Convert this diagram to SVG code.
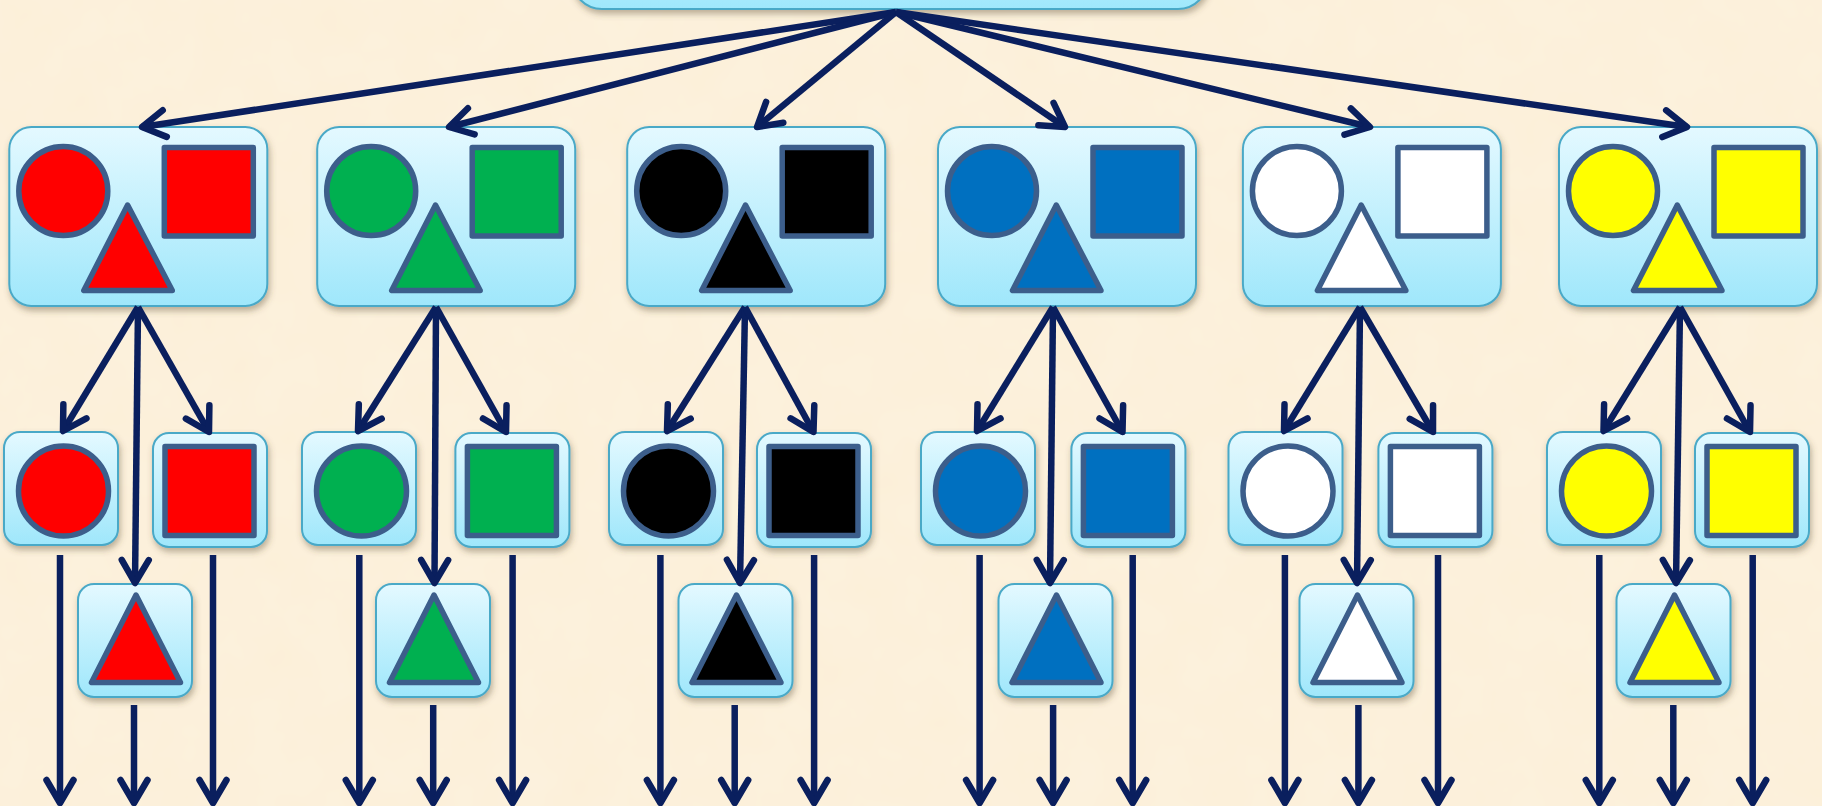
<svg xmlns="http://www.w3.org/2000/svg" width="1822" height="806" viewBox="0 0 1822 806">
<style>
.box{fill:url(#boxg);stroke:#4aa9c7;stroke-width:2;filter:url(#sh)}
.shp{stroke:#3c5e8b;stroke-width:5.5;stroke-linejoin:round}
.red{fill:#ff0000}.green{fill:#00b050}.black{fill:#000000}.blue{fill:#0070c0}.white{fill:#ffffff}.yellow{fill:#ffff00}
.con{fill:none;stroke:#0a1f5e;stroke-width:6.5;stroke-linecap:butt;marker-end:url(#ah)}
</style>
<defs>
<linearGradient id="boxg" x1="0" y1="0" x2="0" y2="1">
<stop offset="0" stop-color="#e4f9ff"/>
<stop offset="1" stop-color="#9fe7fb"/>
</linearGradient>
<linearGradient id="rootg" x1="0" y1="0" x2="0" y2="1">
<stop offset="0" stop-color="#c8f2fe"/>
<stop offset="1" stop-color="#9fe8fc"/>
</linearGradient>
<filter id="sh" x="-20%" y="-20%" width="140%" height="150%">
<feDropShadow dx="1.5" dy="4" stdDeviation="3" flood-color="#5a4a30" flood-opacity="0.4"/>
</filter>
<filter id="tex" x="0" y="0" width="100%" height="100%">
<feTurbulence type="fractalNoise" baseFrequency="0.02" numOctaves="3" seed="4"/>
<feColorMatrix type="matrix" values="0 0 0 0 0.98  0 0 0 0 0.91  0 0 0 0 0.78  0 0 0 0.45 0"/>
</filter>
<marker id="ah" markerUnits="userSpaceOnUse" markerWidth="44" markerHeight="44" viewBox="-32 -22 44 44" refX="0" refY="0" orient="auto">
<path d="M-23,-13.5 L0,0 L-23,13.5" fill="none" stroke="#0a1f5e" stroke-width="6.5" stroke-linecap="round" stroke-linejoin="round"/>
</marker>
</defs>
<rect x="0" y="0" width="1822" height="806" fill="#fcefd8"/>
<rect x="0" y="0" width="1822" height="806" filter="url(#tex)"/>

<g id="root">
<rect x="572" y="-70" width="636" height="79" rx="30" fill="url(#rootg)" stroke="#4aa9c7" stroke-width="2" filter="url(#sh)"/>
</g>

<g id="g1-all" transform="translate(9.3,0)">
<rect class="box" x="0" y="127" width="258" height="179" rx="22"/>
<circle class="shp red" cx="54" cy="191" r="44.5"/>
<rect class="shp red" x="155" y="147.5" width="89" height="88.5"/>
<polygon class="shp red" points="118.3,205 74.5,290.5 163,290.5"/>
</g>
<g id="g2-all" transform="translate(317.2,0)">
<rect class="box" x="0" y="127" width="258" height="179" rx="22"/>
<circle class="shp green" cx="54" cy="191" r="44.5"/>
<rect class="shp green" x="155" y="147.5" width="89" height="88.5"/>
<polygon class="shp green" points="118.3,205 74.5,290.5 163,290.5"/>
</g>
<g id="g3-all" transform="translate(627.2,0)">
<rect class="box" x="0" y="127" width="258" height="179" rx="22"/>
<circle class="shp black" cx="54" cy="191" r="44.5"/>
<rect class="shp black" x="155" y="147.5" width="89" height="88.5"/>
<polygon class="shp black" points="118.3,205 74.5,290.5 163,290.5"/>
</g>
<g id="g4-all" transform="translate(938,0)">
<rect class="box" x="0" y="127" width="258" height="179" rx="22"/>
<circle class="shp blue" cx="54" cy="191" r="44.5"/>
<rect class="shp blue" x="155" y="147.5" width="89" height="88.5"/>
<polygon class="shp blue" points="118.3,205 74.5,290.5 163,290.5"/>
</g>
<g id="g5-all" transform="translate(1242.9,0)">
<rect class="box" x="0" y="127" width="258" height="179" rx="22"/>
<circle class="shp white" cx="54" cy="191" r="44.5"/>
<rect class="shp white" x="155" y="147.5" width="89" height="88.5"/>
<polygon class="shp white" points="118.3,205 74.5,290.5 163,290.5"/>
</g>
<g id="g6-all" transform="translate(1559,0)">
<rect class="box" x="0" y="127" width="258" height="179" rx="22"/>
<circle class="shp yellow" cx="54" cy="191" r="44.5"/>
<rect class="shp yellow" x="155" y="147.5" width="89" height="88.5"/>
<polygon class="shp yellow" points="118.3,205 74.5,290.5 163,290.5"/>
</g>

<g id="g1-circle" transform="translate(4,0)"><rect class="box" x="0" y="432" width="114" height="113" rx="16"/><circle class="shp red" cx="59.5" cy="491" r="45"/></g>
<g id="g2-circle" transform="translate(302,0)"><rect class="box" x="0" y="432" width="114" height="113" rx="16"/><circle class="shp green" cx="59.5" cy="491" r="45"/></g>
<g id="g3-circle" transform="translate(609,0)"><rect class="box" x="0" y="432" width="114" height="113" rx="16"/><circle class="shp black" cx="59.5" cy="491" r="45"/></g>
<g id="g4-circle" transform="translate(921,0)"><rect class="box" x="0" y="432" width="114" height="113" rx="16"/><circle class="shp blue" cx="59.5" cy="491" r="45"/></g>
<g id="g5-circle" transform="translate(1228.5,0)"><rect class="box" x="0" y="432" width="114" height="113" rx="16"/><circle class="shp white" cx="59.5" cy="491" r="45"/></g>
<g id="g6-circle" transform="translate(1547,0)"><rect class="box" x="0" y="432" width="114" height="113" rx="16"/><circle class="shp yellow" cx="59.5" cy="491" r="45"/></g>

<g id="g1-square" transform="translate(153,0)"><rect class="box" x="0" y="433" width="114" height="114" rx="16"/><rect class="shp red" x="12" y="446.5" width="89" height="89"/></g>
<g id="g2-square" transform="translate(455.4,0)"><rect class="box" x="0" y="433" width="114" height="114" rx="16"/><rect class="shp green" x="12" y="446.5" width="89" height="89"/></g>
<g id="g3-square" transform="translate(757,0)"><rect class="box" x="0" y="433" width="114" height="114" rx="16"/><rect class="shp black" x="12" y="446.5" width="89" height="89"/></g>
<g id="g4-square" transform="translate(1071.4,0)"><rect class="box" x="0" y="433" width="114" height="114" rx="16"/><rect class="shp blue" x="12" y="446.5" width="89" height="89"/></g>
<g id="g5-square" transform="translate(1378.4,0)"><rect class="box" x="0" y="433" width="114" height="114" rx="16"/><rect class="shp white" x="12" y="446.5" width="89" height="89"/></g>
<g id="g6-square" transform="translate(1695,0)"><rect class="box" x="0" y="433" width="114" height="114" rx="16"/><rect class="shp yellow" x="12" y="446.5" width="89" height="89"/></g>

<g id="g1-triangle" transform="translate(78,0)"><rect class="box" x="0" y="584" width="114" height="113" rx="16"/><polygon class="shp red" points="58,595 13.5,682.5 102.5,682.5"/></g>
<g id="g2-triangle" transform="translate(376,0)"><rect class="box" x="0" y="584" width="114" height="113" rx="16"/><polygon class="shp green" points="58,595 13.5,682.5 102.5,682.5"/></g>
<g id="g3-triangle" transform="translate(678.5,0)"><rect class="box" x="0" y="584" width="114" height="113" rx="16"/><polygon class="shp black" points="58,595 13.5,682.5 102.5,682.5"/></g>
<g id="g4-triangle" transform="translate(998.5,0)"><rect class="box" x="0" y="584" width="114" height="113" rx="16"/><polygon class="shp blue" points="58,595 13.5,682.5 102.5,682.5"/></g>
<g id="g5-triangle" transform="translate(1299.5,0)"><rect class="box" x="0" y="584" width="114" height="113" rx="16"/><polygon class="shp white" points="58,595 13.5,682.5 102.5,682.5"/></g>
<g id="g6-triangle" transform="translate(1616.5,0)"><rect class="box" x="0" y="584" width="114" height="113" rx="16"/><polygon class="shp yellow" points="58,595 13.5,682.5 102.5,682.5"/></g>

<g id="connectors">
<path class="con" d="M896,12 L142,127"/>
<path class="con" d="M896,12 L449,127"/>
<path class="con" d="M896,12 L757,127"/>
<path class="con" d="M896,12 L1065,127"/>
<path class="con" d="M896,12 L1370,127"/>
<path class="con" d="M896,12 L1687,127"/>
<path class="con" d="M138,307 L63,431"/>
<path class="con" d="M138,307 L135,583"/>
<path class="con" d="M138,307 L209,432"/>
<path class="con" d="M436,307 L358,431"/>
<path class="con" d="M436,307 L434.5,583"/>
<path class="con" d="M436,307 L506,432"/>
<path class="con" d="M745,307 L667,431"/>
<path class="con" d="M745,307 L740,583"/>
<path class="con" d="M745,307 L813.5,432"/>
<path class="con" d="M1053,307 L977,431"/>
<path class="con" d="M1053,307 L1050,583"/>
<path class="con" d="M1053,307 L1122.5,432"/>
<path class="con" d="M1360,307 L1284,431"/>
<path class="con" d="M1360,307 L1357,583"/>
<path class="con" d="M1360,307 L1433,432"/>
<path class="con" d="M1680,307 L1603.5,431"/>
<path class="con" d="M1680,307 L1676,583"/>
<path class="con" d="M1680,307 L1750,432"/>
<path class="con" d="M60,555 L60,803"/>
<path class="con" d="M134,705 L134,803"/>
<path class="con" d="M213,555 L213,803"/>
<path class="con" d="M359.3,555 L359.3,803"/>
<path class="con" d="M433.2,705 L433.2,803"/>
<path class="con" d="M512.6,555 L512.6,803"/>
<path class="con" d="M660.4,555 L660.4,803"/>
<path class="con" d="M734.7,705 L734.7,803"/>
<path class="con" d="M814.1,555 L814.1,803"/>
<path class="con" d="M979.6,555 L979.6,803"/>
<path class="con" d="M1053.1,705 L1053.1,803"/>
<path class="con" d="M1132.7,555 L1132.7,803"/>
<path class="con" d="M1284.9,555 L1284.9,803"/>
<path class="con" d="M1358.4,705 L1358.4,803"/>
<path class="con" d="M1438,555 L1438,803"/>
<path class="con" d="M1599.3,555 L1599.3,803"/>
<path class="con" d="M1673.3,705 L1673.3,803"/>
<path class="con" d="M1752.7,555 L1752.7,803"/>
</g>
</svg>
